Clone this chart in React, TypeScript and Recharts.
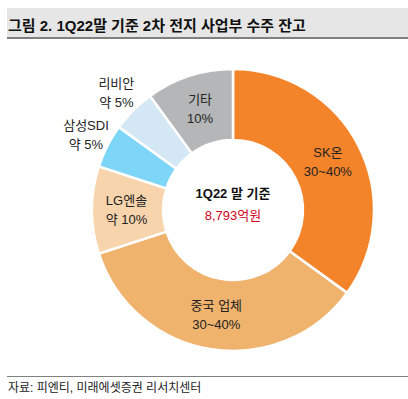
import { PieChart, Pie, Cell } from "recharts";

const names = ["SK온", "중국 업체", "LG엔솔", "삼성SDI", "리비안", "기타"];
const shares = [35, 35, 10, 5, 5, 10];
const shareLabels = ["30~40%", "30~40%", "약 10%", "약 5%", "약 5%", "10%"];

const COLORS = ["#F4842A", "#F0B36E", "#F8D4AC", "#7DD5F8", "#D3E7F5", "#B5B6B8"];
const OUTSIDE = new Set(["삼성SDI", "리비안"]);

const FONT = '"Liberation Sans", Arial, "Noto Sans CJK KR", sans-serif';
const RAD = Math.PI / 180;

const data = names.map((name, i) => ({ name, value: shares[i], text: shareLabels[i] }));

function SliceLabel(props: any) {
  const { cx, cy, midAngle, innerRadius, outerRadius, index } = props;
  const d = data[index];
  const r = OUTSIDE.has(d.name) ? outerRadius + 24 : (innerRadius + outerRadius) / 2 + 1;
  const x = cx + r * Math.cos(-midAngle * RAD);
  const y = cy + r * Math.sin(-midAngle * RAD);
  return (
    <text
      x={x}
      y={y}
      textAnchor="middle"
      fontSize={13}
      fill="#222"
      fontFamily={FONT}
    >
      <tspan x={x} dy={-5}>{d.name}</tspan>
      <tspan x={x} dy={19}>{d.text}</tspan>
    </text>
  );
}

export default function App() {
  return (
    <div
      style={{
        position: "absolute",
        left: 0,
        top: 0,
        width: 408,
        height: 399,
        background: "#fff",
        fontFamily: FONT,
      }}
    >
      <div
        style={{
          position: "absolute",
          left: 7,
          top: 8,
          width: 401,
          height: 31,
          background: "#E6E6E6",
          borderBottom: "2px solid #808080",
          boxSizing: "border-box",
        }}
      >
        <div
          style={{
            position: "absolute",
            left: 1,
            top: 6,
            fontSize: 15,
            fontWeight: 700,
            color: "#111",
            whiteSpace: "nowrap",
          }}
        >
          그림 2. 1Q22말 기준 2차 전지 사업부 수주 잔고
        </div>
      </div>

      <div style={{ position: "absolute", left: 0, top: 0 }}>
        <PieChart width={408} height={399} margin={{ top: 0, right: 0, bottom: 0, left: 0 }}>
          <Pie
            data={data}
            dataKey="value"
            nameKey="name"
            cx={233}
            cy={210}
            innerRadius={70}
            outerRadius={141}
            startAngle={90}
            endAngle={-270}
            stroke="#fff"
            strokeWidth={2.5}
            label={SliceLabel}
            labelLine={false}
            isAnimationActive={false}
          >
            {data.map((d, i) => (
              <Cell key={d.name} fill={COLORS[i]} />
            ))}
          </Pie>
          <text x={233} y={198} textAnchor="middle" fontSize={13} fontWeight={700} fill="#111" fontFamily={FONT}>
            1Q22 말 기준
          </text>
          <text x={233} y={220} textAnchor="middle" fontSize={13} fill="#D0021B" fontFamily={FONT}>
            8,793억원
          </text>
        </PieChart>
      </div>

      <div
        style={{
          position: "absolute",
          left: 7,
          top: 376,
          width: 401,
          borderTop: "1px solid #808080",
        }}
      />
      <div
        style={{
          position: "absolute",
          left: 8,
          top: 378,
          fontSize: 12,
          color: "#222",
          whiteSpace: "nowrap",
        }}
      >
        자료: 피엔티, 미래에셋증권 리서치센터
      </div>
    </div>
  );
}
